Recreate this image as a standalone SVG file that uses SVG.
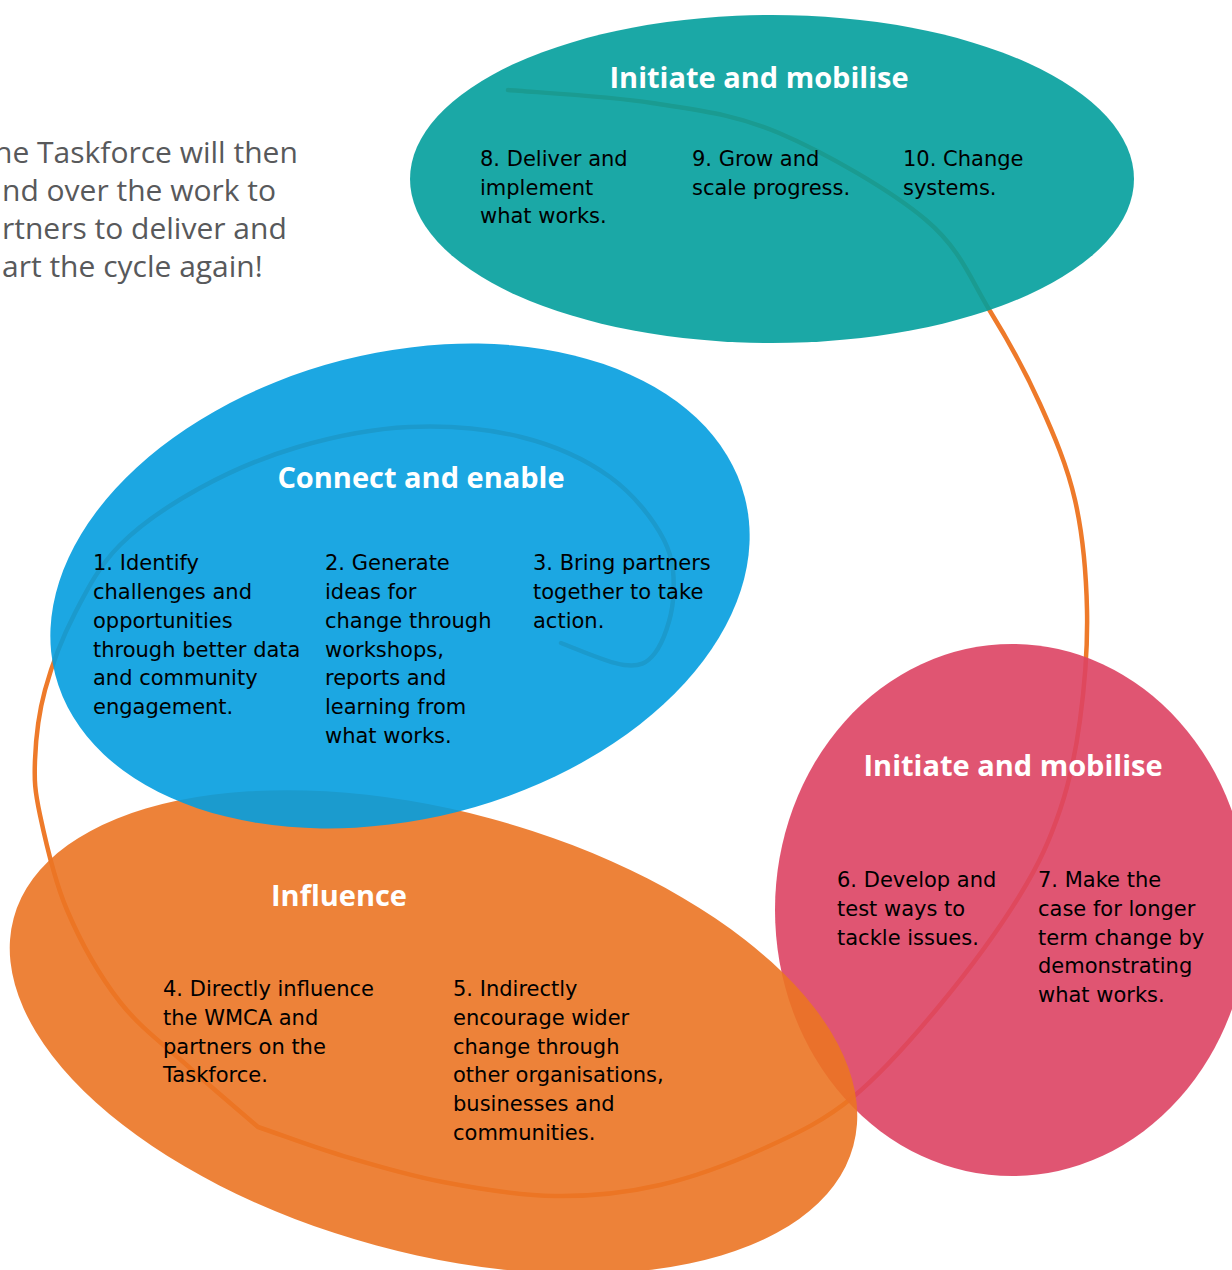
<svg xmlns="http://www.w3.org/2000/svg" width="1232" height="1270" viewBox="0 0 1232 1270">
<style>
.shape{fill-opacity:0.9;stroke:none}
.title{font-family:"Open Sans","Liberation Sans",Arial,sans-serif;font-weight:700;font-size:29px;fill:#ffffff;text-anchor:middle}
.body{font-family:"DejaVu Sans","Liberation Sans",Arial,sans-serif;font-size:21px;fill:#000000}
.intro{font-family:"Open Sans","Liberation Sans",Arial,sans-serif;font-size:30px;fill:#58595B}
.cycle{fill:none;stroke:#EE7A2A;stroke-width:4.5;stroke-linecap:round;stroke-linejoin:round}
</style>
<rect width="1232" height="1270" fill="#ffffff"/>
<g id="intro-text">
<text class="intro" x="-6" y="163">he Taskforce will then</text>
<text class="intro" x="2" y="201">nd over the work to</text>
<text class="intro" x="2" y="239">rtners to deliver and</text>
<text class="intro" x="2" y="277">art the cycle again!</text>
</g>
<g id="connectors">
<path class="cycle" d="M508,90 C532,92.2 606.8,95.8 652,103 C697.2,110.2 733.3,113.5 779,133 C824.7,152.5 890.8,190.3 926,220 C961.2,249.7 971,280.3 990,311 C1009,341.7 1025.8,372.5 1040,404 C1054.2,435.5 1067.2,465.7 1075,500 C1082.8,534.3 1086.2,573.3 1087,610 C1087.8,646.7 1084.5,686.7 1080,720 C1075.5,753.3 1070,780.8 1060,810 C1050,839.2 1040,862.5 1020,895 C1000,927.5 967.8,971.3 940,1005 C912.2,1038.7 881.8,1073.3 853,1097 C824.2,1120.7 799.2,1132.3 767,1147 C734.8,1161.7 695.3,1176.8 660,1185 C624.7,1193.2 591.2,1196.5 555,1196 C518.8,1195.5 478.8,1188.8 443,1182 C407.2,1175.2 370.8,1164.2 340,1155 C309.2,1145.8 285.3,1136.3 258,1127 C235.3,1107.3 213,1088.8 190,1068 C167,1047.2 140.5,1028.3 120,1002 C99.5,975.7 80.3,941.2 67,910 C53.7,878.8 45.3,840 40,815 C34.7,790 34.2,780.8 35,760 C35.8,739.2 38.3,714.5 45,690 C51.7,665.5 62.5,637.2 75,613 C87.5,588.8 99.2,565.8 120,545 C140.8,524.2 170.3,504.3 200,488 C229.7,471.7 263.2,457.2 298,447 C332.8,436.8 371.8,428.7 409,427 C446.2,425.3 487.5,428.7 521,437 C554.5,445.3 586.2,459.8 610,477 C633.8,494.2 653.5,519.5 664,540 C674.5,560.5 674.5,581.2 673,600 C671.5,618.8 663.2,642.2 655,653 C646.8,663.8 639.7,666.7 624,665 C608.3,663.3 571.5,646.7 561,643"/>
</g>
<g id="initiate-mobilise-top">
<ellipse class="shape" cx="772" cy="179" rx="362" ry="164" fill="#029F9C"/>
<text class="title" x="759" y="88">Initiate and mobilise</text>
<text class="body"><tspan x="480" y="166">8. Deliver and</tspan><tspan x="480" y="195">implement</tspan><tspan x="480" y="223">what works.</tspan></text>
<text class="body"><tspan x="692" y="166">9. Grow and</tspan><tspan x="692" y="195">scale progress.</tspan></text>
<text class="body"><tspan x="903" y="166">10. Change</tspan><tspan x="903" y="195">systems.</tspan></text>
</g>
<g id="initiate-mobilise-right">
<ellipse class="shape" cx="1012" cy="910" rx="237" ry="266" fill="#DD4363"/>
<text class="title" x="1013" y="776">Initiate and mobilise</text>
<text class="body"><tspan x="837" y="887">6. Develop and</tspan><tspan x="837" y="916">test ways to</tspan><tspan x="837" y="945">tackle issues.</tspan></text>
<text class="body"><tspan x="1038" y="887">7. Make the</tspan><tspan x="1038" y="916">case for longer</tspan><tspan x="1038" y="945">term change by</tspan><tspan x="1038" y="973">demonstrating</tspan><tspan x="1038" y="1002">what works.</tspan></text>
</g>
<g id="influence">
<ellipse class="shape" cx="433.5" cy="1032" rx="435" ry="221" transform="rotate(15.2 433.5 1032)" fill="#EB7424"/>
<text class="title" x="339" y="906">Influence</text>
<text class="body"><tspan x="163" y="996">4. Directly influence</tspan><tspan x="163" y="1025">the WMCA and</tspan><tspan x="163" y="1054">partners on the</tspan><tspan x="163" y="1082">Taskforce.</tspan></text>
<text class="body"><tspan x="453" y="996">5. Indirectly</tspan><tspan x="453" y="1025">encourage wider</tspan><tspan x="453" y="1054">change through</tspan><tspan x="453" y="1082">other organisations,</tspan><tspan x="453" y="1111">businesses and</tspan><tspan x="453" y="1140">communities.</tspan></text>
</g>
<g id="connect-enable">
<ellipse class="shape" cx="400" cy="586" rx="356" ry="233" transform="rotate(-14.4 400 586)" fill="#039DDF"/>
<text class="title" x="421" y="488">Connect and enable</text>
<text class="body"><tspan x="93" y="570">1. Identify</tspan><tspan x="93" y="599">challenges and</tspan><tspan x="93" y="628">opportunities</tspan><tspan x="93" y="657">through better data</tspan><tspan x="93" y="685">and community</tspan><tspan x="93" y="714">engagement.</tspan></text>
<text class="body"><tspan x="325" y="570">2. Generate</tspan><tspan x="325" y="599">ideas for</tspan><tspan x="325" y="628">change through</tspan><tspan x="325" y="657">workshops,</tspan><tspan x="325" y="685">reports and</tspan><tspan x="325" y="714">learning from</tspan><tspan x="325" y="743">what works.</tspan></text>
<text class="body"><tspan x="533" y="570">3. Bring partners</tspan><tspan x="533" y="599">together to take</tspan><tspan x="533" y="628">action.</tspan></text>
</g>
</svg>
